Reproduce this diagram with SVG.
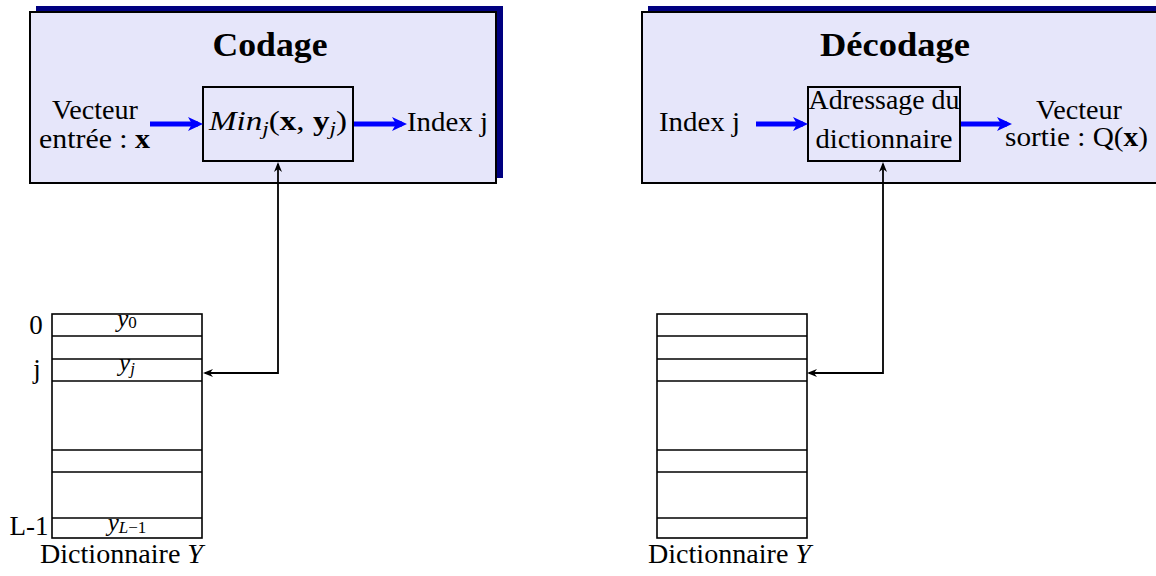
<svg xmlns="http://www.w3.org/2000/svg" width="1156" height="576" viewBox="0 0 1156 576">
<style>
  text { font-family: "Liberation Serif", "Times New Roman", serif; fill: #000; }
  .t { font-size: 27px; }
  .title { font-size: 33px; font-weight: bold; }
  .panel { fill: #E6E6FA; stroke: #000; stroke-width: 2; }
  .shadow { fill: #000080; stroke: none; }
  .box { fill: none; stroke: #000; stroke-width: 2; }
  .tbl { fill: #fff; stroke: #000; stroke-width: 1.6; }
  .row { stroke: #000; stroke-width: 1.6; }
  .blue { fill: none; stroke: #0000FF; stroke-width: 5; marker-end: url(#bluehead); }
  .link { fill: none; stroke: #000; stroke-width: 1.8; marker-start: url(#blackhead); marker-end: url(#blackhead); }
  .it { font-style: italic; }
  .bf { font-weight: bold; }
  .sub { font-size: 19px; font-style: italic; }
</style>
<defs>
  <marker id="bluehead" markerUnits="userSpaceOnUse" viewBox="0 0 15 14" refX="10" refY="7" markerWidth="15" markerHeight="14" orient="auto">
    <path d="M0,0 L15,7 L0,14 L4,7 Z" fill="#0000FF"/>
  </marker>
  <marker id="blackhead" markerUnits="userSpaceOnUse" viewBox="0 0 10 8" refX="8" refY="4" markerWidth="10" markerHeight="8" orient="auto-start-reverse">
    <path d="M0,0 L10,4 L0,8 L3,4 Z" fill="#000"/>
  </marker>
</defs>

<g id="codage-panel">
  <rect class="shadow" x="36" y="6" width="467" height="172"/>
  <rect class="panel" x="30" y="12" width="466" height="171"/>
  <text class="title" x="270" y="56" text-anchor="middle" textLength="115" lengthAdjust="spacingAndGlyphs">Codage</text>
</g>

<g id="decodage-panel">
  <rect class="shadow" x="648" y="6" width="520" height="172"/>
  <rect class="panel" x="642" y="12" width="530" height="171"/>
  <text class="title" x="895" y="56" text-anchor="middle" textLength="150" lengthAdjust="spacingAndGlyphs">Décodage</text>
</g>

<g id="input-x">
  <text class="t" x="95" y="119" text-anchor="middle" textLength="86" lengthAdjust="spacingAndGlyphs">Vecteur</text>
  <text class="t" x="39" y="148" textLength="111" lengthAdjust="spacingAndGlyphs">entrée : <tspan class="bf">x</tspan></text>
</g>

<g id="min-box">
  <rect class="box" x="203" y="87" width="150" height="74"/>
  <text class="t" x="209" y="130" textLength="138" lengthAdjust="spacingAndGlyphs"><tspan class="it">Min</tspan><tspan class="sub" dy="5">j</tspan><tspan dy="-5">(</tspan><tspan class="bf">x</tspan>, <tspan class="bf">y</tspan><tspan class="sub" dy="5">j</tspan><tspan dy="-5">)</tspan></text>
</g>

<g id="index-out">
  <text class="t" x="407" y="131" textLength="81" lengthAdjust="spacingAndGlyphs">Index j</text>
</g>

<g id="index-in">
  <text class="t" x="659" y="131" textLength="81" lengthAdjust="spacingAndGlyphs">Index j</text>
</g>

<g id="adressage-box">
  <rect class="box" x="808" y="87" width="152" height="74"/>
  <text class="t" x="884" y="109" text-anchor="middle" textLength="151" lengthAdjust="spacingAndGlyphs">Adressage du</text>
  <text class="t" x="884" y="148" text-anchor="middle" textLength="137" lengthAdjust="spacingAndGlyphs">dictionnaire</text>
</g>

<g id="output-q">
  <text class="t" x="1079" y="119" text-anchor="middle" textLength="86" lengthAdjust="spacingAndGlyphs">Vecteur</text>
  <text class="t" x="1005" y="146" textLength="143" lengthAdjust="spacingAndGlyphs">sortie : Q(<tspan class="bf">x</tspan>)</text>
</g>

<g id="dict-left">
  <rect class="tbl" x="52" y="314" width="150" height="224"/>
  <line class="row" x1="52" y1="336" x2="202" y2="336"/>
  <line class="row" x1="52" y1="359" x2="202" y2="359"/>
  <line class="row" x1="52" y1="381" x2="202" y2="381"/>
  <line class="row" x1="52" y1="450" x2="202" y2="450"/>
  <line class="row" x1="52" y1="472" x2="202" y2="472"/>
  <line class="row" x1="52" y1="518" x2="202" y2="518"/>
  <text class="t" x="36" y="334" text-anchor="middle">0</text>
  <text class="t" x="37" y="378" text-anchor="middle">j</text>
  <text class="t" x="29" y="535" text-anchor="middle">L-1</text>
  <text x="127" y="327" text-anchor="middle" font-size="25px"><tspan class="it">y</tspan><tspan font-size="17px" dy="1">0</tspan></text>
  <text x="127" y="371" text-anchor="middle" font-size="25px"><tspan class="it">y</tspan><tspan font-size="17px" font-style="italic" dy="3">j</tspan></text>
  <text x="127" y="531" text-anchor="middle" font-size="25px"><tspan class="it">y</tspan><tspan font-size="17px" font-style="italic" dy="2">L</tspan><tspan font-size="17px">−1</tspan></text>
  <text class="t" x="40" y="563" textLength="163" lengthAdjust="spacingAndGlyphs">Dictionnaire <tspan class="it">Y</tspan></text>
</g>

<g id="dict-right">
  <rect class="tbl" x="657" y="314" width="150" height="224"/>
  <line class="row" x1="657" y1="336" x2="807" y2="336"/>
  <line class="row" x1="657" y1="359" x2="807" y2="359"/>
  <line class="row" x1="657" y1="381" x2="807" y2="381"/>
  <line class="row" x1="657" y1="450" x2="807" y2="450"/>
  <line class="row" x1="657" y1="472" x2="807" y2="472"/>
  <line class="row" x1="657" y1="518" x2="807" y2="518"/>
  <text class="t" x="648" y="563" textLength="163" lengthAdjust="spacingAndGlyphs">Dictionnaire <tspan class="it">Y</tspan></text>
</g>

<g id="connectors">
  <path class="blue" d="M150,124 H198"/>
  <path class="blue" d="M354,124 H402"/>
  <path class="blue" d="M756,124 H803"/>
  <path class="blue" d="M961,124 H1007"/>
  <path class="link" d="M278,164 V373 H205"/>
  <path class="link" d="M883,164 V373 H809"/>
</g>
</svg>
